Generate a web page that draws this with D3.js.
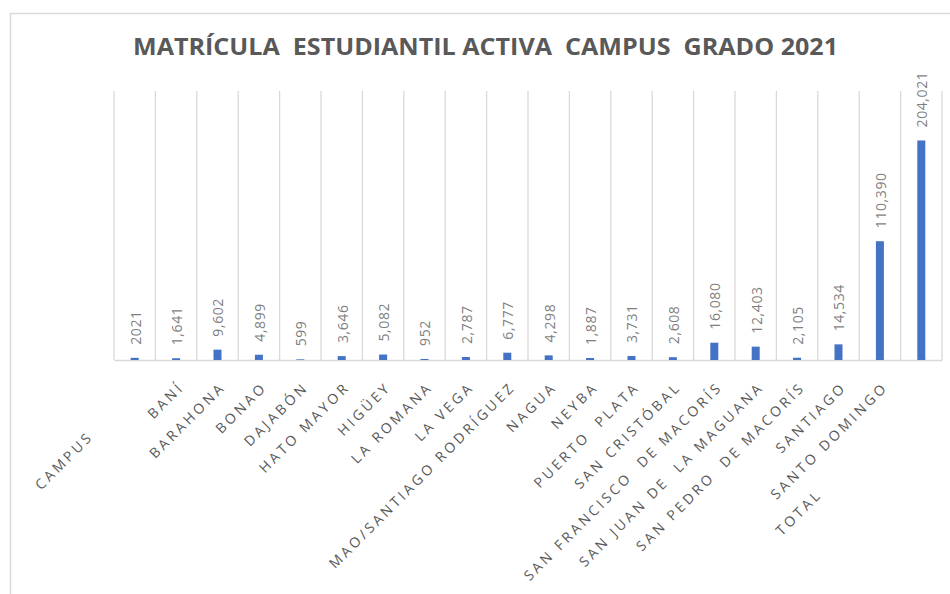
<!DOCTYPE html>
<html>
<head>
<meta charset="utf-8">
<script src="https://cdn.jsdelivr.net/npm/d3@7"></script>
<style>
  html, body { margin: 0; padding: 0; background: #fff; }
  svg { display: block; }
</style>
</head>
<body>
<svg id="chart" width="950" height="594"></svg>
<script>
const categories = ["CAMPUS", "BANÍ", "BARAHONA", "BONAO", "DAJABÓN", "HATO MAYOR", "HIGÜEY", "LA ROMANA", "LA VEGA", "MAO/SANTIAGO RODRÍGUEZ", "NAGUA", "NEYBA", "PUERTO  PLATA", "SAN CRISTÓBAL", "SAN FRANCISCO  DE MACORÍS", "SAN JUAN DE  LA MAGUANA", "SAN PEDRO  DE MACORÍS", "SANTIAGO", "SANTO DOMINGO", "TOTAL"];
const values = [2021, 1641, 9602, 4899, 599, 3646, 5082, 952, 2787, 6777, 4298, 1887, 3731, 2608, 16080, 12403, 2105, 14534, 110390, 204021];
const valueLabels = ["2021", "1,641", "9,602", "4,899", "599", "3,646", "5,082", "952", "2,787", "6,777", "4,298", "1,887", "3,731", "2,608", "16,080", "12,403", "2,105", "14,534", "110,390", "204,021"];
const yDomain = [0, 250000];
const titleText = "MATRÍCULA  ESTUDIANTIL ACTIVA  CAMPUS  GRADO 2021";

// layout
const plot = { left: 114, right: 942, top: 91, bottom: 360 };
const labelBackShift = { "CAMPUS": 70, "TOTAL": 152 };
const gray = "#595959";
const gridColor = "#d9d9d9";
const barColor = "#4472C4";

const svg = d3.select("#chart");

// chart border
svg.append("path")
  .attr("d", "M10.5,594 L10.5,13.5 L950,13.5")
  .attr("fill", "none").attr("stroke", gridColor).attr("stroke-width", 1.5);

// title
svg.append("text")
  .attr("x", 485.5).attr("y", 55)
  .attr("text-anchor", "middle")
  .attr("font-family", "'Open Sans', sans-serif")
  .attr("font-weight", 700)
  .attr("font-size", 24)
  .attr("fill", gray)
  .style("white-space", "pre")
  .attr("textLength", 705)
  .attr("lengthAdjust", "spacingAndGlyphs")
  .text(titleText);

const x = d3.scaleBand().domain(categories).range([plot.left, plot.right]).padding(0);
const y = d3.scaleLinear().domain(yDomain).range([plot.bottom, plot.top]);

// vertical gridlines at band boundaries
const bounds = categories.map(c => x(c)).concat([plot.right]);
svg.append("g").selectAll("line").data(bounds).join("line")
  .attr("x1", d => d).attr("x2", d => d)
  .attr("y1", plot.top).attr("y2", plot.bottom)
  .attr("stroke", gridColor).attr("stroke-width", 1.3);

// axis line
const xAxis = d3.axisBottom(x).tickSize(0).tickFormat("");
const axisG = svg.append("g").attr("transform", `translate(0,${plot.bottom})`).call(xAxis);
axisG.select(".domain").attr("stroke", gridColor).attr("stroke-width", 1.5);

// bars
const barW = 8;
svg.append("g").selectAll("rect").data(values).join("rect")
  .attr("x", (d, i) => x(categories[i]) + x.bandwidth() / 2 - barW / 2)
  .attr("width", barW)
  .attr("y", d => y(d))
  .attr("height", d => y(0) - y(d))
  .attr("fill", barColor);

// data labels
svg.append("g").selectAll("text").data(values).join("text")
  .attr("transform", (d, i) => `translate(${x(categories[i]) + x.bandwidth() / 2 + 1},${y(d) - 13}) rotate(-90)`)
  .attr("dy", "0.35em")
  .attr("text-anchor", "start")
  .attr("font-family", "'Open Sans', sans-serif")
  .attr("font-size", 14)
  .attr("letter-spacing", "0.6px")
  .attr("fill", "#7f7f7f")
  .text((d, i) => valueLabels[i]);

// category labels
svg.append("g").selectAll("text").data(categories).join("text")
  .attr("transform", c => `translate(${x(c) + x.bandwidth() / 2 + 9},${plot.bottom + 28}) rotate(-45)`)
  .attr("dx", c => -(labelBackShift[c] || 0))
  .attr("text-anchor", "end")
  .attr("font-family", "'Open Sans', sans-serif")
  .attr("font-size", 14)
  .attr("letter-spacing", "3.1px")
  .attr("fill", gray)
  .style("white-space", "pre")
  .text(c => c);
</script>
</body>
</html>
